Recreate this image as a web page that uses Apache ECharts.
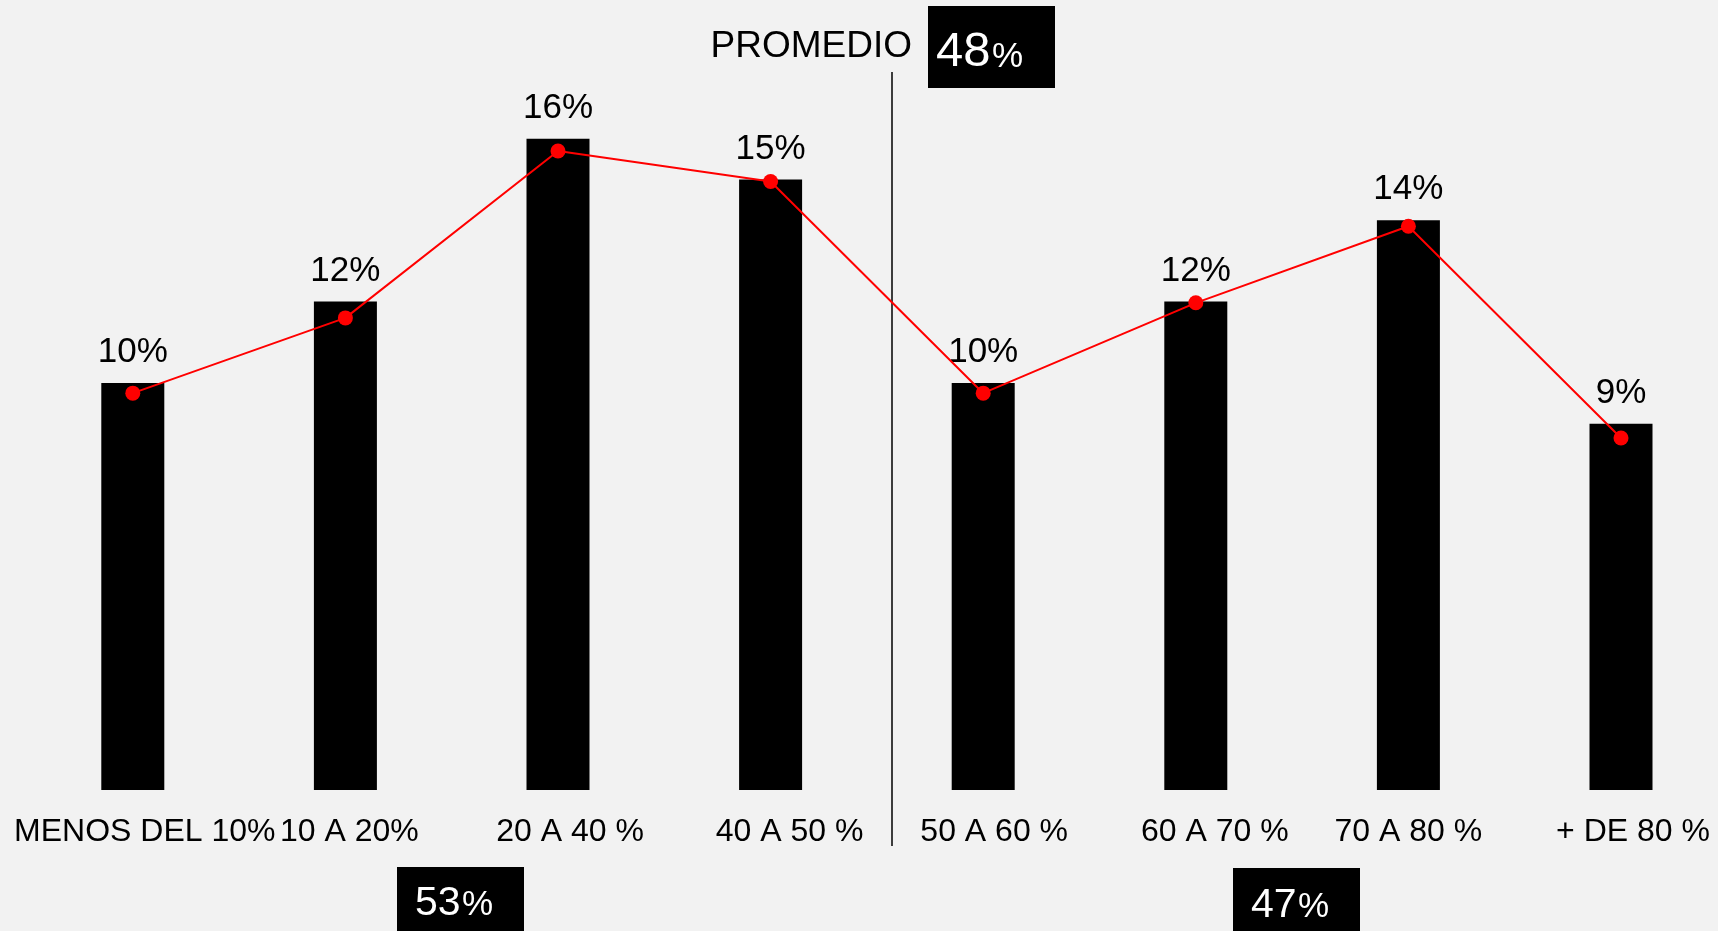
<!DOCTYPE html>
<html>
<head>
<meta charset="utf-8">
<script src="https://cdn.jsdelivr.net/npm/echarts@6/dist/echarts.min.js"></script>
<style>
html,body{margin:0;padding:0;background:#f2f2f2;}
#chart{width:1718px;height:931px;}
</style>
</head>
<body>
<div id="chart"></div>
<script>
const categories = ['MENOS DEL 10%', '10 A 20%', '20 A 40 %', '40 A 50 %', '50 A 60 %', '60 A 70 %', '70 A 80 %', '+ DE 80 %'];
const barValues = [10, 12, 16, 15, 10, 12, 14, 9];
const lineValues = [9.75, 11.6, 15.7, 14.95, 9.75, 11.97, 13.85, 8.65];
const averageLabel = 'PROMEDIO';
const averageValue = '48';
const lowerGroupValue = '53';
const upperGroupValue = '47';

// style only: horizontal nudge (px) of each axis label, as in the original layout
const labelNudge = [12, 4, 12, 19, 11, 19, 0, 12];

const FONT = "'Liberation Sans', Arial, sans-serif";
const chart = echarts.init(document.getElementById('chart'));

function box(x, y, w, h, num, numSize, numX, pctX, baseline) {
  return [
    { type: 'rect', shape: { x: x, y: y, width: w, height: h }, style: { fill: '#000' }, z: 10 },
    { type: 'text', x: numX, y: baseline - numSize * 0.35, z: 11,
      style: { text: num, fill: '#fff', font: numSize + 'px ' + FONT, align: 'left', verticalAlign: 'middle' } },
    { type: 'text', x: pctX, y: baseline - 35 * 0.35, z: 11,
      style: { text: '%', fill: '#fff', font: '35px ' + FONT, align: 'left', verticalAlign: 'middle' } }
  ];
}

const axisData = categories.map(function (c, i) {
  return { value: c, textStyle: { padding: [0, 0, 0, labelNudge[i] * 2] } };
});

chart.setOption({
  backgroundColor: '#f2f2f2',
  animation: false,
  textStyle: { fontFamily: FONT },
  grid: { left: 26.5, width: 1700.8, top: 16.7, bottom: 141, containLabel: false, outerBoundsMode: 'none' },
  xAxis: {
    type: 'category',
    data: axisData,
    axisLine: { show: false },
    axisTick: { show: false },
    axisLabel: { interval: 0, color: '#000', fontSize: 32, fontFamily: FONT, margin: 26 }
  },
  yAxis: {
    type: 'value', min: 0, max: 19, show: false,
    splitLine: { show: false }
  },
  series: [
    {
      type: 'bar',
      data: barValues,
      barWidth: 63,
      itemStyle: { color: '#000' },
      label: { show: true, position: 'top', distance: 13, color: '#000', fontSize: 35, fontFamily: FONT, formatter: '{c}%' },
      z: 2
    },
    {
      type: 'line',
      data: lineValues,
      symbol: 'circle',
      symbolSize: 15,
      lineStyle: { color: '#ff0000', width: 2 },
      itemStyle: { color: '#ff0000' },
      z: 5
    }
  ],
  graphic: [
    { type: 'text', x: 912, y: 47, style: { text: averageLabel, fill: '#000', font: '37px ' + FONT, align: 'right', verticalAlign: 'middle' } },
    { type: 'line', shape: { x1: 892, y1: 72, x2: 892, y2: 846 }, style: { stroke: '#000', lineWidth: 1.5 } },
    ...box(928, 6, 127, 82, averageValue, 49, 936, 992, 70),
    ...box(397, 867, 127, 70, lowerGroupValue, 41, 415, 462, 918),
    ...box(1233, 868, 127, 70, upperGroupValue, 41, 1251, 1298, 920)
  ]
});
</script>
</body>
</html>
